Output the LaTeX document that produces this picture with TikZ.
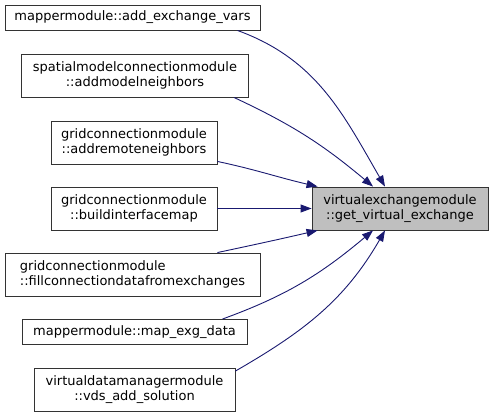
\documentclass[tikz,border=0pt]{standalone}
\usepackage{fontspec}
\setmainfont{DejaVu Sans}
\usetikzlibrary{arrows.meta}
\definecolor{edgeblue}{RGB}{25,25,112}
\definecolor{fngray}{RGB}{191,191,191}

\begin{document}
\begin{tikzpicture}[x=1pt,y=1pt]
  \tikzstyle{fn}=[draw=black!80,line width=0.9pt,inner sep=0pt,minimum height=25pt,
    align=center,font=\fontsize{13}{15}\selectfont]
  \tikzstyle{fnmain}=[fn,fill=fngray]
  \tikzstyle{call}=[-{Triangle[length=11pt,width=8pt]},edgeblue,line width=0.9pt]
  \useasboundingbox (0,0) rectangle (493,-417);
  % callers
  \node[fn,minimum width=255pt] (addvars) at (132.5,-17.5) {mappermodule::add\_exchange\_vars};
  \node[fn,minimum width=227pt,minimum height=43pt] (modelnb) at (135,-75.5) {spatialmodelconnectionmodule\\::addmodelneighbors};
  \node[fn,minimum width=166pt,minimum height=43pt] (remotenb) at (134,-142.5) {gridconnectionmodule\\::addremoteneighbors};
  \node[fn,minimum width=166pt,minimum height=43pt] (ifmap) at (134,-208.5) {gridconnectionmodule\\::buildinterfacemap};
  \node[fn,minimum width=255pt,minimum height=43pt,align=left] (fillconn) at (132.5,-274.5) {gridconnectionmodule\\::fillconnectiondatafromexchanges};
  \node[fn,minimum width=225pt] (mapexg) at (134.5,-332) {mappermodule::map\_exg\_data};
  \node[fn,minimum width=201pt,minimum height=43pt] (vdsadd) at (134.5,-390) {virtualdatamanagermodule\\::vds\_add\_solution};
  % called function
  \node[fnmain,minimum width=176pt,minimum height=43pt] (getvx) at (400,-208.5) {virtualexchangemodule\\::get\_virtual\_exchange};
  % calls
  \draw[call] ([xshift=-23pt]addvars.south east) to[out=-20,in=120] ([xshift=-15pt]getvx.north);
  \draw[call] ([xshift=-15pt]modelnb.south east) to[out=-25,in=140] ([xshift=-27pt]getvx.north);
  \draw[call] ([yshift=3pt]remotenb.south east) to[out=-12,in=167] ([xshift=6pt]getvx.north west);
  \draw[call] (ifmap.east) -- (getvx.west);
  \draw[call] ([xshift=-43pt]fillconn.north east) to[out=12,in=-167] ([xshift=6pt]getvx.south west);
  \draw[call] ([xshift=-25pt]mapexg.north east) to[out=20,in=-140] ([xshift=-27pt]getvx.south);
  \draw[call] ([yshift=-3pt]vdsadd.north east) to[out=30,in=-120] ([xshift=-15pt]getvx.south);
\end{tikzpicture}
\end{document}
